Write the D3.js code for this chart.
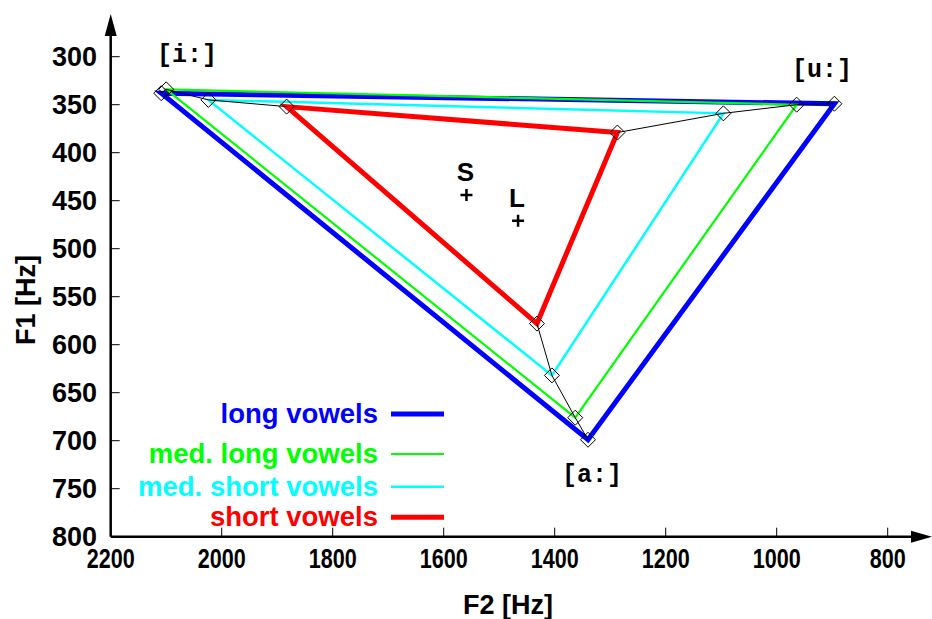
<!DOCTYPE html>
<html>
<head>
<meta charset="utf-8">
<script src="https://cdn.jsdelivr.net/npm/d3@7"></script>
<style>
  html, body { margin: 0; padding: 0; background: #fff; }
  svg { display: block; }
  text { font-family: "Liberation Sans", Arial, sans-serif; font-weight: bold; }
</style>
</head>
<body>
<svg id="chart" width="932" height="619"></svg>
<script>
// ---- data ----
const vowels = ["[i:]", "[u:]", "[a:]"];
const seriesNames = ["long vowels", "med. long vowels", "med. short vowels", "short vowels"];
const seriesColors = ["#0000ff", "#00ff00", "#00ffff", "#ff0000"];
// F2 / F1 per series, in order of vowels [i:], [u:], [a:]
const longF2 = [2109, 896, 1340];
const longF1 = [338, 349, 699];
const medLongF2 = [2100, 964, 1363];
const medLongF1 = [334, 350, 676];
const medShortF2 = [2024, 1096, 1405];
const medShortF1 = [345, 359, 632];
const shortF2 = [1883, 1287, 1432];
const shortF1 = [352, 379, 578];
// centroid markers
const centroidNames = ["S", "L"];
const centroidF2 = [1559, 1466];
const centroidF1 = [444, 471];
// ticks
const xTicks = [2200, 2000, 1800, 1600, 1400, 1200, 1000, 800];
const yTicks = [300, 350, 400, 450, 500, 550, 600, 650, 700, 750, 800];

const series = [
  { name: seriesNames[0], color: seriesColors[0], f2: longF2, f1: longF1, width: 5 },
  { name: seriesNames[1], color: seriesColors[1], f2: medLongF2, f1: medLongF1, width: 2.2 },
  { name: seriesNames[2], color: seriesColors[2], f2: medShortF2, f1: medShortF1, width: 2.5 },
  { name: seriesNames[3], color: seriesColors[3], f2: shortF2, f1: shortF1, width: 5 }
];

const svg = d3.select("#chart");
const x = d3.scaleLinear().domain([2200, 800]).range([110.7, 887.7]);
const y = d3.scaleLinear().domain([300, 800]).range([56.7, 536.7]);

// ---- axes ----
const axisG = svg.append("g");
axisG.selectAll(".xt").data(xTicks.slice(1)).enter().append("line")
  .attr("x1", d => x(d)).attr("x2", d => x(d))
  .attr("y1", y(800)).attr("y2", y(800) - 9)
  .attr("stroke", "#000").attr("stroke-width", 1);
axisG.selectAll(".yt").data(yTicks.slice(0, -1)).enter().append("line")
  .attr("x1", x(2200)).attr("x2", x(2200) + 9)
  .attr("y1", d => y(d)).attr("y2", d => y(d))
  .attr("stroke", "#000").attr("stroke-width", 1);
axisG.append("line").attr("x1", x(2200)).attr("x2", 915).attr("y1", y(800)).attr("y2", y(800))
  .attr("stroke", "#000").attr("stroke-width", 2.5);
axisG.append("line").attr("x1", x(2200)).attr("x2", x(2200)).attr("y1", y(800)).attr("y2", 32)
  .attr("stroke", "#000").attr("stroke-width", 2.5);
const ax = x(2200), ay = y(800);
axisG.append("path").attr("d", `M932,${ay} L911,${ay - 6} L911,${ay + 6} Z`).attr("fill", "#000");
axisG.append("path").attr("d", `M${ax},14 L${ax - 6},36 L${ax + 6},36 Z`).attr("fill", "#000");

// tick labels
axisG.selectAll(".xl").data(xTicks).enter().append("text")
  .attr("transform", d => `translate(${x(d)},568) scale(0.8,1)`)
  .attr("text-anchor", "middle").attr("font-size", 27).text(d => d);
axisG.selectAll(".yl").data(yTicks).enter().append("text")
  .attr("x", 97).attr("y", d => y(d) + 9.5)
  .attr("text-anchor", "end").attr("font-size", 27).text(d => d);
// axis titles
svg.append("text").attr("x", 508).attr("y", 614).attr("text-anchor", "middle")
  .attr("font-size", 27).text("F2 [Hz]");
svg.append("text").attr("transform", "translate(35,300) rotate(-90)").attr("text-anchor", "middle")
  .attr("font-size", 27).text("F1 [Hz]");

// ---- triangles ----
const pts = s => s.f2.map((v, i) => [x(v), y(s.f1[i])]);
const lineGen = d3.line();
series.forEach(s => {
  svg.append("path").attr("d", lineGen(pts(s)) + "Z")
    .attr("fill", "none").attr("stroke", s.color).attr("stroke-width", s.width)
    .attr("stroke-linejoin", "miter");
});
vowels.forEach((v, i) => {
  const p = series.map(s => [x(s.f2[i]), y(s.f1[i])]);
  svg.append("path").attr("d", lineGen(p)).attr("fill", "none")
    .attr("stroke", "#000").attr("stroke-width", 1);
});
series.forEach(s => {
  svg.selectAll(null).data(pts(s)).enter().append("path")
    .attr("d", d => `M${d[0]},${d[1] - 7.5} L${d[0] + 7.5},${d[1]} L${d[0]},${d[1] + 7.5} L${d[0] - 7.5},${d[1]} Z`)
    .attr("fill", "none").attr("stroke", "#000").attr("stroke-width", 1);
});

// vowel labels
const vowelLabelPos = [[187, 62], [822, 77], [592, 482]];
vowels.forEach((v, i) => {
  svg.append("text").attr("x", vowelLabelPos[i][0]).attr("y", vowelLabelPos[i][1])
    .attr("text-anchor", "middle").attr("font-size", 25)
    .style("font-family", "'Liberation Mono', 'Courier New', monospace").text(v);
});

// centroid markers
centroidNames.forEach((n, i) => {
  const cx = x(centroidF2[i]), cy = y(centroidF1[i]);
  svg.append("path").attr("d", `M${cx - 6},${cy} H${cx + 6} M${cx},${cy - 6} V${cy + 6}`)
    .attr("stroke", "#000").attr("stroke-width", 2.5);
  svg.append("text").attr("x", cx - 1).attr("y", cy - 14).attr("text-anchor", "middle")
    .attr("font-size", 26).text(n);
});

// ---- legend ----
const legY = [414, 454, 486.7, 517.3];
series.forEach((s, i) => {
  svg.append("text").attr("x", 378).attr("y", legY[i] + 9).attr("text-anchor", "end")
    .attr("font-size", 27.5).attr("fill", s.color).text(s.name);
  svg.append("line").attr("x1", 391).attr("x2", 444).attr("y1", legY[i]).attr("y2", legY[i])
    .attr("stroke", s.color).attr("stroke-width", s.width);
});
</script>
</body>
</html>
